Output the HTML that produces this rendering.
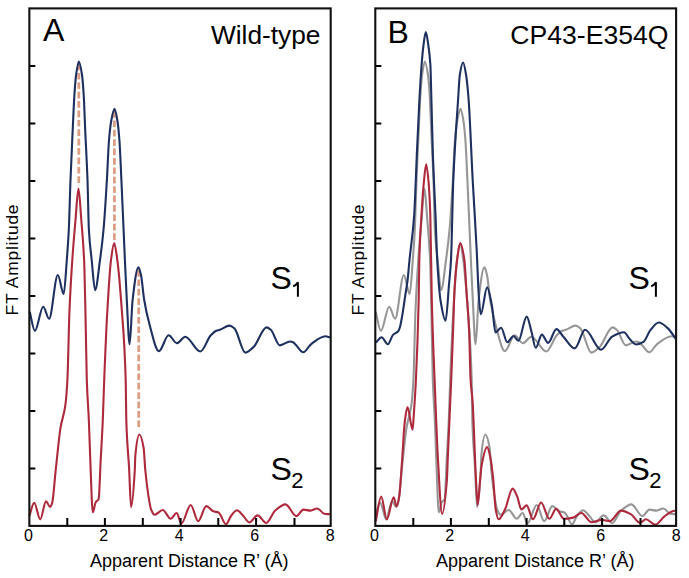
<!DOCTYPE html>
<html><head><meta charset="utf-8"><style>
html,body{margin:0;padding:0;background:#fff;width:689px;height:578px;overflow:hidden}
svg{display:block;font-family:"Liberation Sans",sans-serif}
</style></head><body>
<svg width="689" height="578" viewBox="0 0 689 578">
<path d="M78.8,63.5 L78.8,186 M114.4,111 L114.4,240 M138.7,270 L138.7,428" stroke="#dd9e86" stroke-width="2.8" stroke-dasharray="6.7 2.7" fill="none"/>
<path d="M29.70,311.90C31.43,318.23 33.17,330.90 34.90,330.90C37.67,330.90 40.43,306.70 43.20,306.70C45.17,306.70 47.13,318.80 49.10,318.80C52.00,318.80 54.90,275.00 57.80,275.00C59.77,275.00 61.73,294.00 63.70,294.00C64.73,294.00 65.77,273.24 66.80,260.00C67.47,251.46 68.13,243.36 68.80,230.00C69.37,218.64 69.93,194.61 70.50,180.00C71.23,161.09 71.97,145.81 72.70,130.00C73.27,117.78 73.83,103.48 74.40,95.00C74.97,86.52 75.53,79.01 76.10,75.00C77.03,68.39 77.97,61.50 78.90,61.50C79.93,61.50 80.97,68.12 82.00,75.00C82.57,78.77 83.13,86.07 83.70,95.00C84.20,102.88 84.70,118.72 85.20,130.00C85.97,147.30 86.73,158.86 87.50,180.00C87.97,192.87 88.43,221.82 88.90,230.00C89.83,246.36 90.77,250.91 91.70,260.00C92.83,271.04 93.97,290.20 95.10,290.20C96.73,290.20 98.37,271.82 100.00,260.00C101.17,251.56 102.33,242.65 103.50,230.00C104.63,217.71 105.77,199.00 106.90,180.00C107.60,168.26 108.30,148.19 109.00,140.00C109.80,130.64 110.60,124.08 111.40,120.00C112.43,114.73 113.47,108.90 114.50,108.90C115.43,108.90 116.37,114.67 117.30,120.00C118.00,124.00 118.70,130.94 119.40,140.00C120.07,148.63 120.73,165.83 121.40,180.00C122.13,195.59 122.87,213.20 123.60,230.00C124.03,239.93 124.47,250.43 124.90,260.00C125.53,273.99 126.17,288.45 126.80,300.00C127.73,317.02 128.67,344.30 129.60,344.30C130.60,344.30 131.60,308.55 132.60,300.00C134.53,283.47 136.47,267.40 138.40,267.40C139.27,267.40 140.13,271.37 141.00,275.00C142.07,279.47 143.13,293.68 144.20,300.00C145.93,310.27 147.67,317.73 149.40,324.00C152.57,335.45 155.73,351.20 158.90,351.20C162.13,351.20 165.37,335.30 168.60,335.30C171.37,335.30 174.13,343.20 176.90,343.20C179.67,343.20 182.43,336.70 185.20,336.70C190.27,336.70 195.33,351.50 200.40,351.50C203.87,351.50 207.33,338.92 210.80,335.30C212.67,333.35 214.53,331.42 216.40,330.70C217.53,330.26 218.67,330.16 219.80,329.80C223.03,328.78 226.27,325.60 229.50,325.60C231.13,325.60 232.77,327.02 234.40,328.40C238.07,331.49 241.73,352.60 245.40,352.60C248.10,352.60 250.80,349.55 253.50,347.10C257.87,343.13 262.23,327.40 266.60,327.40C268.00,327.40 269.40,328.67 270.80,329.80C273.80,332.23 276.80,345.40 279.80,345.40C283.23,345.40 286.67,341.50 290.10,341.50C291.03,341.50 291.97,341.87 292.90,342.20C296.37,343.44 299.83,352.30 303.30,352.30C305.83,352.30 308.37,346.20 310.90,344.30C315.73,340.68 320.57,336.30 325.40,336.30C326.93,336.30 328.47,337.03 330.00,337.40" fill="none" stroke="#1e305f" stroke-width="2.1" stroke-linejoin="round"/>
<path d="M29.40,515.90C31.00,511.53 32.60,502.80 34.20,502.80C36.20,502.80 38.20,519.40 40.20,519.40C42.13,519.40 44.07,501.40 46.00,501.40C47.37,501.40 48.73,506.90 50.10,506.90C50.80,506.90 51.50,504.94 52.20,502.80C53.37,499.23 54.53,480.79 55.70,470.20C57.30,455.67 58.90,437.59 60.50,427.80C62.13,417.81 63.77,416.75 65.40,404.90C66.07,400.06 66.73,392.04 67.40,380.00C68.10,367.36 68.80,326.52 69.50,310.00C70.43,287.98 71.37,273.78 72.30,260.00C73.37,244.25 74.43,232.14 75.50,220.00C76.50,208.62 77.50,188.60 78.50,188.60C79.43,188.60 80.37,208.27 81.30,220.00C82.23,231.73 83.17,239.40 84.10,260.00C84.53,269.56 84.97,291.19 85.40,310.00C85.87,330.26 86.33,366.39 86.80,380.00C87.50,400.42 88.20,405.22 88.90,421.50C89.37,432.35 89.83,448.76 90.30,460.00C91.13,480.08 91.97,512.40 92.80,512.40C93.80,512.40 94.80,503.50 95.80,502.00C96.73,500.60 97.67,501.09 98.60,499.30C99.30,497.96 100.00,473.22 100.70,460.00C101.40,446.78 102.10,436.22 102.80,420.00C103.27,409.19 103.73,391.77 104.20,380.00C105.27,353.10 106.33,328.20 107.40,310.00C108.60,289.52 109.80,269.14 111.00,260.00C112.07,251.87 113.13,243.00 114.20,243.00C115.23,243.00 116.27,252.57 117.30,260.00C118.80,270.79 120.30,289.30 121.80,310.00C123.10,327.94 124.40,337.21 125.70,380.00C125.90,386.58 126.10,413.71 126.30,420.00C127.23,449.35 128.17,451.28 129.10,468.40C129.77,480.63 130.43,507.20 131.10,507.20C132.33,507.20 133.57,490.73 134.80,470.00C134.97,467.20 135.13,457.79 135.30,456.00C136.67,441.30 138.03,434.50 139.40,434.50C140.80,434.50 142.20,439.93 143.60,447.70C144.17,450.85 144.73,464.23 145.30,470.00C146.57,482.89 147.83,492.68 149.10,500.00C149.77,503.86 150.43,507.92 151.10,509.50C152.27,512.27 153.43,514.70 154.60,514.70C157.30,514.70 160.00,510.00 162.70,510.00C165.40,510.00 168.10,518.80 170.80,518.80C172.73,518.80 174.67,513.00 176.60,513.00C178.20,513.00 179.80,523.50 181.40,523.50C184.50,523.50 187.60,505.00 190.70,505.00C193.20,505.00 195.70,521.20 198.20,521.20C200.90,521.20 203.60,506.10 206.30,506.10C208.63,506.10 210.97,510.50 213.30,511.30C215.03,511.89 216.77,511.84 218.50,512.50C221.03,513.47 223.57,524.20 226.10,524.20C227.73,524.20 229.37,518.00 231.00,516.00C233.00,513.55 235.00,510.30 237.00,510.30C239.00,510.30 241.00,513.58 243.00,515.50C245.13,517.55 247.27,522.40 249.40,522.40C252.10,522.40 254.80,515.40 257.50,515.40C260.43,515.40 263.37,523.00 266.30,523.00C269.20,523.00 272.10,513.31 275.00,510.80C278.47,507.80 281.93,504.40 285.40,504.40C289.07,504.40 292.73,516.00 296.40,516.00C298.73,516.00 301.07,509.60 303.40,509.60C305.77,509.60 308.13,510.60 310.50,510.60C312.77,510.60 315.03,508.50 317.30,508.50C319.63,508.50 321.97,513.28 324.30,513.70C326.20,514.04 328.10,514.10 330.00,514.30" fill="none" stroke="#ad2a3d" stroke-width="2.1" stroke-linejoin="round"/>
<path d="M375.70,311.90C377.43,318.23 379.17,330.90 380.90,330.90C383.67,330.90 386.43,306.70 389.20,306.70C391.17,306.70 393.13,318.80 395.10,318.80C398.00,318.80 400.90,275.00 403.80,275.00C405.77,275.00 407.73,294.00 409.70,294.00C410.73,294.00 411.77,273.24 412.80,260.00C413.47,251.46 414.13,243.36 414.80,230.00C415.37,218.64 415.93,194.61 416.50,180.00C417.23,161.09 417.97,145.81 418.70,130.00C419.27,117.78 419.83,103.48 420.40,95.00C420.97,86.52 421.53,79.01 422.10,75.00C423.03,68.39 423.97,61.50 424.90,61.50C425.93,61.50 426.97,68.12 428.00,75.00C428.57,78.77 429.13,86.07 429.70,95.00C430.20,102.88 430.70,118.72 431.20,130.00C431.97,147.30 432.73,158.86 433.50,180.00C433.97,192.87 434.43,221.82 434.90,230.00C435.83,246.36 436.77,250.91 437.70,260.00C438.83,271.04 439.97,290.20 441.10,290.20C442.73,290.20 444.37,271.82 446.00,260.00C447.17,251.56 448.33,242.65 449.50,230.00C450.63,217.71 451.77,199.00 452.90,180.00C453.60,168.26 454.30,148.19 455.00,140.00C455.80,130.64 456.60,124.08 457.40,120.00C458.43,114.73 459.47,108.90 460.50,108.90C461.43,108.90 462.37,114.67 463.30,120.00C464.00,124.00 464.70,130.94 465.40,140.00C466.07,148.63 466.73,165.83 467.40,180.00C468.13,195.59 468.87,213.20 469.60,230.00C470.03,239.93 470.47,250.43 470.90,260.00C471.53,273.99 472.17,288.45 472.80,300.00C473.73,317.02 474.67,344.30 475.60,344.30C476.60,344.30 477.60,308.55 478.60,300.00C480.53,283.47 482.47,267.40 484.40,267.40C485.27,267.40 486.13,271.37 487.00,275.00C488.07,279.47 489.13,293.68 490.20,300.00C491.93,310.27 493.67,317.73 495.40,324.00C498.57,335.45 501.73,351.20 504.90,351.20C508.13,351.20 511.37,335.30 514.60,335.30C517.37,335.30 520.13,343.20 522.90,343.20C525.67,343.20 528.43,336.70 531.20,336.70C536.27,336.70 541.33,351.50 546.40,351.50C549.87,351.50 553.33,338.92 556.80,335.30C558.67,333.35 560.53,331.42 562.40,330.70C563.53,330.26 564.67,330.16 565.80,329.80C569.03,328.78 572.27,325.60 575.50,325.60C577.13,325.60 578.77,327.02 580.40,328.40C584.07,331.49 587.73,352.60 591.40,352.60C594.10,352.60 596.80,349.55 599.50,347.10C603.87,343.13 608.23,327.40 612.60,327.40C614.00,327.40 615.40,328.67 616.80,329.80C619.80,332.23 622.80,345.40 625.80,345.40C629.23,345.40 632.67,341.50 636.10,341.50C637.03,341.50 637.97,341.87 638.90,342.20C642.37,343.44 645.83,352.30 649.30,352.30C651.83,352.30 654.37,346.20 656.90,344.30C661.73,340.68 666.57,336.30 671.40,336.30C672.93,336.30 674.47,337.03 676.00,337.40" fill="none" stroke="#969696" stroke-width="2.1" stroke-linejoin="round"/>
<path d="M375.40,515.90C377.00,511.53 378.60,502.80 380.20,502.80C382.20,502.80 384.20,519.40 386.20,519.40C388.13,519.40 390.07,501.40 392.00,501.40C393.37,501.40 394.73,506.90 396.10,506.90C396.80,506.90 397.50,504.94 398.20,502.80C399.37,499.23 400.53,480.79 401.70,470.20C403.30,455.67 404.90,437.59 406.50,427.80C408.13,417.81 409.77,416.75 411.40,404.90C412.07,400.06 412.73,392.04 413.40,380.00C414.10,367.36 414.80,326.52 415.50,310.00C416.43,287.98 417.37,273.78 418.30,260.00C419.37,244.25 420.43,232.14 421.50,220.00C422.50,208.62 423.50,188.60 424.50,188.60C425.43,188.60 426.37,208.27 427.30,220.00C428.23,231.73 429.17,239.40 430.10,260.00C430.53,269.56 430.97,291.19 431.40,310.00C431.87,330.26 432.33,366.39 432.80,380.00C433.50,400.42 434.20,405.22 434.90,421.50C435.37,432.35 435.83,448.76 436.30,460.00C437.13,480.08 437.97,512.40 438.80,512.40C439.80,512.40 440.80,503.50 441.80,502.00C442.73,500.60 443.67,501.09 444.60,499.30C445.30,497.96 446.00,473.22 446.70,460.00C447.40,446.78 448.10,436.22 448.80,420.00C449.27,409.19 449.73,391.77 450.20,380.00C451.27,353.10 452.33,328.20 453.40,310.00C454.60,289.52 455.80,269.14 457.00,260.00C458.07,251.87 459.13,243.00 460.20,243.00C461.23,243.00 462.27,252.57 463.30,260.00C464.80,270.79 466.30,289.30 467.80,310.00C469.10,327.94 470.40,337.21 471.70,380.00C471.90,386.58 472.10,413.71 472.30,420.00C473.23,449.35 474.17,451.28 475.10,468.40C475.77,480.63 476.43,507.20 477.10,507.20C478.33,507.20 479.57,490.73 480.80,470.00C480.97,467.20 481.13,457.79 481.30,456.00C482.67,441.30 484.03,434.50 485.40,434.50C486.80,434.50 488.20,439.93 489.60,447.70C490.17,450.85 490.73,464.23 491.30,470.00C492.57,482.89 493.83,492.68 495.10,500.00C495.77,503.86 496.43,507.92 497.10,509.50C498.27,512.27 499.43,514.70 500.60,514.70C503.30,514.70 506.00,510.00 508.70,510.00C511.40,510.00 514.10,518.80 516.80,518.80C518.73,518.80 520.67,513.00 522.60,513.00C524.20,513.00 525.80,523.50 527.40,523.50C530.50,523.50 533.60,505.00 536.70,505.00C539.20,505.00 541.70,521.20 544.20,521.20C546.90,521.20 549.60,506.10 552.30,506.10C554.63,506.10 556.97,510.50 559.30,511.30C561.03,511.89 562.77,511.84 564.50,512.50C567.03,513.47 569.57,524.20 572.10,524.20C573.73,524.20 575.37,518.00 577.00,516.00C579.00,513.55 581.00,510.30 583.00,510.30C585.00,510.30 587.00,513.58 589.00,515.50C591.13,517.55 593.27,522.40 595.40,522.40C598.10,522.40 600.80,515.40 603.50,515.40C606.43,515.40 609.37,523.00 612.30,523.00C615.20,523.00 618.10,513.31 621.00,510.80C624.47,507.80 627.93,504.40 631.40,504.40C635.07,504.40 638.73,516.00 642.40,516.00C644.73,516.00 647.07,509.60 649.40,509.60C651.77,509.60 654.13,510.60 656.50,510.60C658.77,510.60 661.03,508.50 663.30,508.50C665.63,508.50 667.97,513.28 670.30,513.70C672.20,514.04 674.10,514.10 676.00,514.30" fill="none" stroke="#969696" stroke-width="2.1" stroke-linejoin="round"/>
<path d="M376.00,342.50C377.87,340.77 379.73,337.30 381.60,337.30C383.67,337.30 385.73,344.30 387.80,344.30C389.53,344.30 391.27,336.74 393.00,334.90C394.83,332.96 396.67,333.16 398.50,330.80C398.97,330.20 399.43,328.82 399.90,327.30C400.60,325.02 401.30,320.81 402.00,316.90C403.13,310.57 404.27,302.04 405.40,294.60C406.10,290.00 406.80,286.45 407.50,280.80C408.17,275.42 408.83,266.68 409.50,260.00C411.07,244.29 412.63,237.30 414.20,215.00C414.73,207.41 415.27,192.51 415.80,180.00C416.13,172.18 416.47,162.73 416.80,155.00C417.67,134.89 418.53,115.68 419.40,100.00C420.13,86.73 420.87,74.25 421.60,65.00C422.23,57.02 422.87,49.70 423.50,45.00C424.27,39.31 425.03,32.00 425.80,32.00C426.63,32.00 427.47,39.35 428.30,45.00C429.00,49.75 429.70,53.76 430.40,65.00C430.73,70.35 431.07,88.08 431.40,100.00C431.90,117.88 432.40,140.32 432.90,155.00C433.23,164.79 433.57,172.18 433.90,180.00C434.43,192.51 434.97,202.24 435.50,215.00C436.07,228.56 436.63,250.29 437.20,260.00C438.37,279.99 439.53,294.43 440.70,301.50C442.33,311.40 443.97,320.70 445.60,320.70C446.73,320.70 447.87,297.60 449.00,284.60C449.67,276.95 450.33,271.98 451.00,260.00C451.77,246.22 452.53,198.09 453.30,180.00C454.93,141.47 456.57,122.94 458.20,98.00C458.73,89.86 459.27,78.43 459.80,75.00C460.90,67.93 462.00,62.50 463.10,62.50C464.10,62.50 465.10,69.11 466.10,75.00C466.90,79.72 467.70,88.02 468.50,98.00C469.90,115.46 471.30,154.17 472.70,180.00C474.03,204.60 475.37,223.84 476.70,250.00C477.40,263.73 478.10,286.57 478.80,295.70C479.47,304.39 480.13,314.40 480.80,314.40C482.90,314.40 485.00,287.40 487.10,287.40C488.70,287.40 490.30,297.26 491.90,305.40C493.10,311.50 494.30,332.50 495.50,332.50C497.37,332.50 499.23,327.70 501.10,327.70C503.17,327.70 505.23,342.20 507.30,342.20C509.37,342.20 511.43,336.00 513.50,336.00C515.13,336.00 516.77,340.80 518.40,340.80C521.17,340.80 523.93,316.60 526.70,316.60C528.30,316.60 529.90,326.26 531.50,331.80C532.90,336.65 534.30,347.80 535.70,347.80C537.77,347.80 539.83,334.60 541.90,334.60C543.97,334.60 546.03,342.90 548.10,342.90C550.87,342.90 553.63,329.10 556.40,329.10C558.73,329.10 561.07,334.22 563.40,336.70C567.17,340.70 570.93,348.40 574.70,348.40C578.17,348.40 581.63,329.80 585.10,329.80C590.40,329.80 595.70,349.80 601.00,349.80C604.70,349.80 608.40,338.80 612.10,336.70C616.07,334.45 620.03,332.30 624.00,332.30C625.90,332.30 627.80,337.23 629.70,339.10C631.87,341.23 634.03,344.50 636.20,344.50C638.63,344.50 641.07,343.34 643.50,341.90C645.80,340.54 648.10,332.85 650.40,330.10C653.20,326.75 656.00,322.50 658.80,322.50C661.77,322.50 664.73,325.56 667.70,328.10C670.47,330.47 673.23,335.43 676.00,339.10" fill="none" stroke="#1e305f" stroke-width="2.1" stroke-linejoin="round"/>
<path d="M375.70,521.40C377.53,513.10 379.37,496.50 381.20,496.50C383.07,496.50 384.93,519.40 386.80,519.40C389.10,519.40 391.40,497.20 393.70,497.20C394.63,497.20 395.57,506.20 396.50,506.20C397.40,506.20 398.30,501.49 399.20,496.50C400.13,491.32 401.07,474.33 402.00,461.90C402.93,449.47 403.87,428.79 404.80,421.50C405.70,414.47 406.60,407.00 407.50,407.00C409.20,407.00 410.90,429.80 412.60,429.80C413.00,429.80 413.40,420.26 413.80,414.60C414.50,404.69 415.20,394.45 415.90,380.00C416.83,360.74 417.77,340.86 418.70,300.00C418.90,291.24 419.10,266.96 419.30,260.00C420.03,234.46 420.77,227.32 421.50,215.00C422.20,203.24 422.90,192.23 423.60,185.00C424.47,176.05 425.33,164.30 426.20,164.30C427.07,164.30 427.93,174.73 428.80,185.00C429.30,190.92 429.80,200.22 430.30,215.00C430.80,229.78 431.30,280.35 431.80,300.00C432.73,336.67 433.67,355.84 434.60,380.00C435.73,409.34 436.87,440.74 438.00,460.00C439.37,483.23 440.73,513.80 442.10,513.80C443.70,513.80 445.30,500.29 446.90,480.00C447.17,476.62 447.43,466.43 447.70,460.00C448.87,431.88 450.03,408.74 451.20,380.00C451.83,364.40 452.47,347.39 453.10,330.00C453.57,317.19 454.03,298.01 454.50,290.00C455.37,275.12 456.23,266.51 457.10,260.00C458.13,252.24 459.17,243.00 460.20,243.00C461.60,243.00 463.00,250.42 464.40,260.00C465.07,264.56 465.73,280.06 466.40,290.00C467.30,303.42 468.20,310.84 469.10,330.00C469.60,340.65 470.10,371.83 470.60,380.00C471.23,390.34 471.87,391.19 472.50,400.00C473.67,416.22 474.83,459.74 476.00,480.00C476.57,489.84 477.13,504.80 477.70,504.80C478.50,504.80 479.30,487.99 480.10,480.00C480.57,475.34 481.03,469.02 481.50,466.40C483.37,455.90 485.23,447.10 487.10,447.10C488.23,447.10 489.37,452.84 490.50,458.10C491.43,462.43 492.37,471.03 493.30,480.00C494.10,487.69 494.90,505.18 495.70,509.50C496.67,514.72 497.63,519.30 498.60,519.30C500.73,519.30 502.87,513.66 505.00,509.50C507.53,504.56 510.07,488.60 512.60,488.60C514.17,488.60 515.73,493.20 517.30,496.70C518.67,499.76 520.03,509.50 521.40,509.50C523.13,509.50 524.87,505.40 526.60,505.40C528.73,505.40 530.87,519.30 533.00,519.30C535.70,519.30 538.40,502.50 541.10,502.50C543.83,502.50 546.57,518.80 549.30,518.80C551.60,518.80 553.90,508.90 556.20,508.90C558.73,508.90 561.27,518.80 563.80,518.80C566.90,518.80 570.00,518.26 573.10,517.60C575.80,517.02 578.50,513.00 581.20,513.00C584.67,513.00 588.13,522.30 591.60,522.30C595.00,522.30 598.40,519.90 601.80,519.90C604.50,519.90 607.20,521.10 609.90,521.10C613.60,521.10 617.30,510.60 621.00,510.60C624.27,510.60 627.53,512.40 630.80,514.10C633.90,515.71 637.00,522.80 640.10,522.80C642.03,522.80 643.97,519.30 645.90,519.30C649.00,519.30 652.10,524.60 655.20,524.60C658.30,524.60 661.40,518.69 664.50,516.40C667.20,514.40 669.90,511.89 672.60,511.20C673.73,510.91 674.87,510.80 676.00,510.60" fill="none" stroke="#ad2a3d" stroke-width="2.1" stroke-linejoin="round"/>
<rect x="29.35" y="8.4" width="301.34999999999997" height="517.5" fill="none" stroke="#111" stroke-width="2.1"/>
<path d="M29.35,468.4h6M29.35,410.9h6M29.35,353.4h6M29.35,295.9h6M29.35,238.4h6M29.35,180.9h6M29.35,123.4h6M29.35,65.9h6M67.3,525.9v-8M104.9,525.9v-8M142.8,525.9v-8M180.6,525.9v-8M218.3,525.9v-8M256.1,525.9v-8M294.5,525.9v-8" stroke="#000" stroke-width="2" fill="none"/>
<text x="28.4" y="540.5" font-size="16" text-anchor="middle">0</text>
<text x="103.8" y="540.5" font-size="16" text-anchor="middle">2</text>
<text x="179.3" y="540.5" font-size="16" text-anchor="middle">4</text>
<text x="254.7" y="540.5" font-size="16" text-anchor="middle">6</text>
<text x="330.2" y="540.5" font-size="16" text-anchor="middle">8</text>
<rect x="375.3" y="8.4" width="300.8" height="517.5" fill="none" stroke="#111" stroke-width="2.1"/>
<path d="M375.3,468.4h6M375.3,410.9h6M375.3,353.4h6M375.3,295.9h6M375.3,238.4h6M375.3,180.9h6M375.3,123.4h6M375.3,65.9h6M413.3,525.9v-8M450.9,525.9v-8M488.8,525.9v-8M526.6,525.9v-8M564.3,525.9v-8M602.1,525.9v-8M640.5,525.9v-8" stroke="#000" stroke-width="2" fill="none"/>
<text x="374.4" y="540.5" font-size="16" text-anchor="middle">0</text>
<text x="449.8" y="540.5" font-size="16" text-anchor="middle">2</text>
<text x="525.3" y="540.5" font-size="16" text-anchor="middle">4</text>
<text x="600.7" y="540.5" font-size="16" text-anchor="middle">6</text>
<text x="676.2" y="540.5" font-size="16" text-anchor="middle">8</text>
<text x="43" y="40.5" font-size="32">A</text>
<text x="387.5" y="42.7" font-size="32">B</text>
<text x="320.5" y="44.4" font-size="26.3" text-anchor="end">Wild-type</text>
<text x="668.5" y="44.3" font-size="26.6" text-anchor="end">CP43-E354Q</text>
<text x="270.6" y="289.3" font-size="32">S</text>
<path d="M297.9,296.7V282.3C296.6,284.6 295,285.7 293.2,286.2" stroke="#000" stroke-width="2" stroke-linejoin="bevel" fill="none"/>
<text x="270.6" y="480.3" font-size="32">S</text><text x="291.2" y="487.9" font-size="22">2</text>
<text x="628.6" y="289.3" font-size="32">S</text>
<path d="M655.9,296.7V282.3C654.6,284.6 653,285.7 651.2,286.2" stroke="#000" stroke-width="2" stroke-linejoin="bevel" fill="none"/>
<text x="628.6" y="480.3" font-size="32">S</text><text x="649.2" y="487.9" font-size="22">2</text>
<text x="90" y="567" font-size="18">Apparent Distance R’ (Å)</text>
<text transform="translate(18.3,315.4) rotate(-90)" font-size="17.4" letter-spacing="0.8">FT Amplitude</text>
<text x="436" y="567" font-size="18">Apparent Distance R’ (Å)</text>
<text transform="translate(364.3,315.4) rotate(-90)" font-size="17.4" letter-spacing="0.8">FT Amplitude</text>
</svg></body></html>
